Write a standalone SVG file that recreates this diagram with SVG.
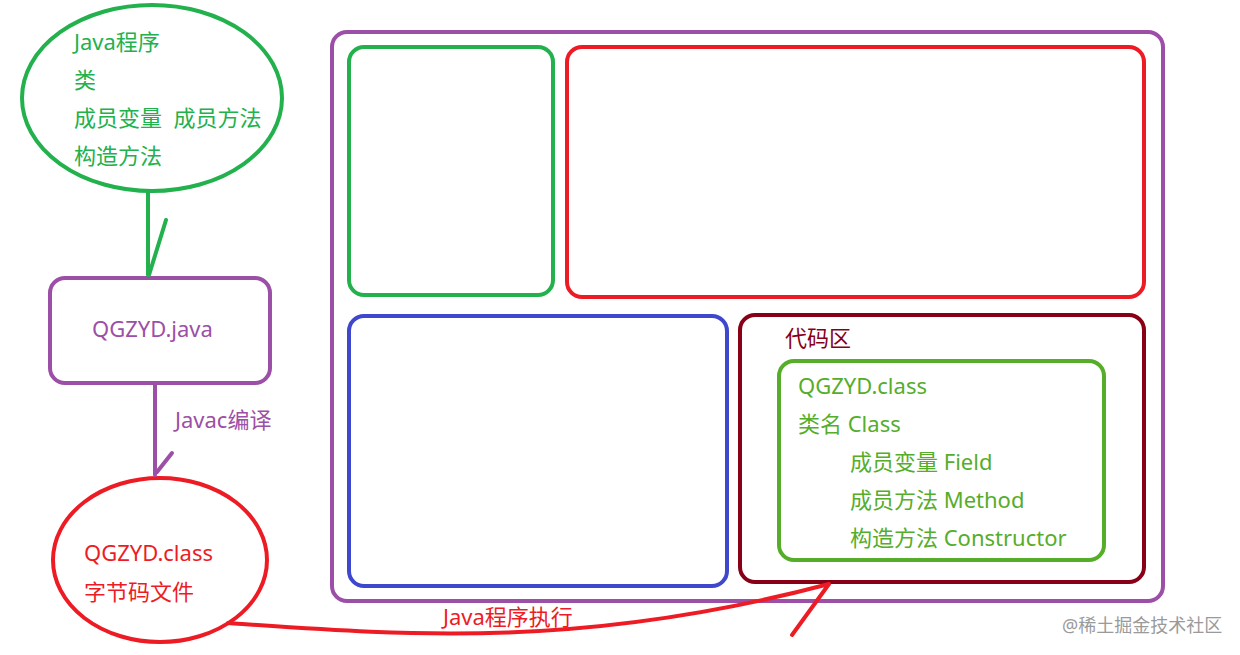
<svg xmlns="http://www.w3.org/2000/svg" width="1240" height="655" viewBox="0 0 1240 655">
<style>
text{font-family:"Noto Sans","Noto Sans CJK SC",sans-serif;font-size:22px}
.s{fill:none;stroke-width:4;stroke-linecap:round;stroke-linejoin:round}
.g{stroke:#22b14c}.gt{fill:#22b14c}
.p{stroke:#9c4fa6}.pt{fill:#9c4fa6}
.r{stroke:#ed1c24}.rt{fill:#ed1c24}
.b{stroke:#3f48cc}
.d{stroke:#880015}.dt{fill:#880015}
.l{stroke:#56ad2a}.lt{fill:#56ad2a}
</style>
<rect width="1240" height="655" fill="#ffffff"/>
<g id="program">
<ellipse class="s g" cx="152" cy="98" rx="130" ry="93"/>
<text class="gt" x="74" y="50">Java程序</text>
<text class="gt" x="74" y="88">类</text>
<text class="gt" x="74" y="126" xml:space="preserve">成员变量  成员方法</text>
<text class="gt" x="74" y="164">构造方法</text>
</g>
<g id="java-file">
<rect class="s p" x="50" y="278" width="220" height="105" rx="15"/>
<text class="pt" x="92" y="337">QGZYD.java</text>
</g>
<g id="class-file">
<ellipse class="s r" cx="160" cy="560" rx="107" ry="82"/>
<text class="rt" x="84" y="561">QGZYD.class</text>
<text class="rt" x="84" y="600">字节码文件</text>
</g>
<g id="jvm">
<rect class="s p" x="332" y="32" width="831" height="569" rx="15"/>
</g>
<g id="green-area">
<rect class="s g" x="349" y="47" width="204" height="248" rx="15"/>
</g>
<g id="red-area">
<rect class="s r" x="567" y="47" width="577" height="250" rx="15"/>
</g>
<g id="blue-area">
<rect class="s b" x="349" y="316" width="378" height="270" rx="15"/>
</g>
<g id="code-area">
<rect class="s d" x="740" y="315" width="404" height="267" rx="15"/>
<text class="dt" x="785" y="346">代码区</text>
</g>
<g id="class-info">
<rect class="s l" x="779" y="361" width="325" height="199" rx="15"/>
<text class="lt" x="798" y="394">QGZYD.class</text>
<text class="lt" x="798" y="432">类名 Class</text>
<text class="lt" x="850" y="470">成员变量 Field</text>
<text class="lt" x="850" y="508">成员方法 Method</text>
<text class="lt" x="850" y="546">构造方法 Constructor</text>
</g>
<g id="connectors">
<path class="s g" d="M148,192 V275 M166,220 L149,275"/>
<path class="s p" d="M155,383 V475 M172,453 L157,472"/>
<text class="pt" x="175" y="428">Javac编译</text>
<path class="s r" d="M228,623 C400,635 580,650 829,584 M792,635 L829,584"/>
<text class="rt" x="443" y="625">Java程序执行</text>
</g>
<text x="1062" y="632" style="font-size:18px;fill:#9a9a9a">@稀土掘金技术社区</text>
</svg>
